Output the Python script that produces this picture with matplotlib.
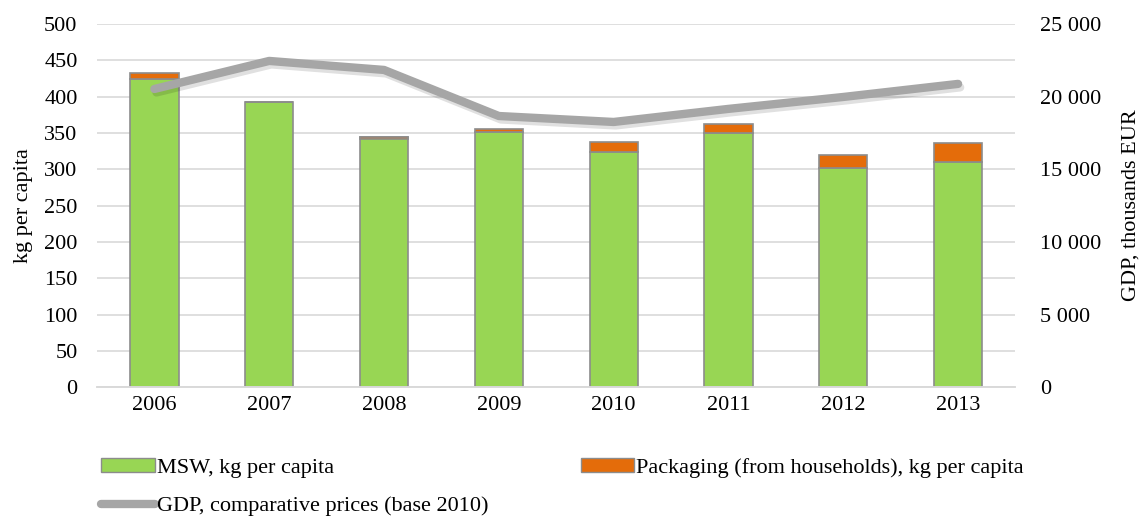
import matplotlib.pyplot as plt
import matplotlib.patheffects as pe
from matplotlib.patches import Patch
from matplotlib.lines import Line2D
import numpy as np

plt.rcParams['font.family'] = ['Liberation Serif', 'DejaVu Serif']
plt.rcParams['font.size'] = 16

# data
years = ['2006', '2007', '2008', '2009', '2010', '2011', '2012', '2013']
msw = [424, 392, 344, 351, 324, 350, 302, 310]
packaging = [8, 0, -2, 5, 13, 12, 18, 26]
gdp = [20520, 22450, 21830, 18660, 18250, 19150, 19970, 20870]

green = '#98D654'
orange = '#E46C0A'
grey = '#A6A6A6'

fig = plt.figure(figsize=(11.41, 5.19), dpi=100)
ax = fig.add_axes([0.085, 0.254, 0.805, 0.70])
ax2 = ax.twinx()

x = np.arange(len(years))
w = 0.42
ax.bar(x, msw, width=w, color=green, edgecolor='#8C8C8C', linewidth=1.2, zorder=2)
ax.bar(x, packaging, width=w, bottom=msw, color=orange, edgecolor='#8C8C8C',
       linewidth=1.2, zorder=2)

ax2.plot(x, gdp, color=grey, linewidth=6, solid_capstyle='round', zorder=3,
         path_effects=[pe.SimpleLineShadow(offset=(1.5, -2.5), alpha=0.12,
                                           shadow_color='black'), pe.Normal()])

ax.set_xlim(-0.5, 7.5)
ax.set_ylim(0, 500)
ax.set_yticks(range(0, 501, 50))
ax2.set_ylim(0, 25000)
ax2.set_yticks(range(0, 25001, 5000))
ax2.set_yticklabels(['0', '5 000', '10 000', '15 000', '20 000', '25 000'])
ax.set_xticks(x)
ax.set_xticklabels(years)

ax.grid(axis='y', color='#D9D9D9', linewidth=1.2, zorder=0)
ax.set_axisbelow(True)
for a in (ax, ax2):
    for s in ('top', 'left', 'right'):
        a.spines[s].set_visible(False)
    a.spines['bottom'].set_color('#D9D9D9')
    a.spines['bottom'].set_linewidth(1.2)
    a.tick_params(length=0, labelsize=16)
ax.tick_params(axis='y', pad=14)
ax.tick_params(axis='x', pad=6)
ax2.tick_params(axis='y', pad=18)

ax.set_ylabel('kg per capita', fontsize=16, labelpad=8)
ax2.set_ylabel('GDP, thousands EUR', fontsize=16, labelpad=14)

handles = [Patch(facecolor=green, edgecolor='#8C8C8C'),
           Line2D([0], [0], color=grey, linewidth=6, solid_capstyle='round'),
           Patch(facecolor=orange, edgecolor='#8C8C8C')]
labels = ['MSW, kg per capita', 'GDP, comparative prices (base 2010)',
          'Packaging (from households), kg per capita']
fig.legend(handles, labels, ncol=2, loc='upper left', bbox_to_anchor=(0.081, 0.135),
           frameon=False, fontsize=16, handlelength=2.4, handleheight=0.55,
           handletextpad=0.1, columnspacing=4.15, labelspacing=0.85, borderaxespad=0)

fig.savefig('out.png', dpi=100)
